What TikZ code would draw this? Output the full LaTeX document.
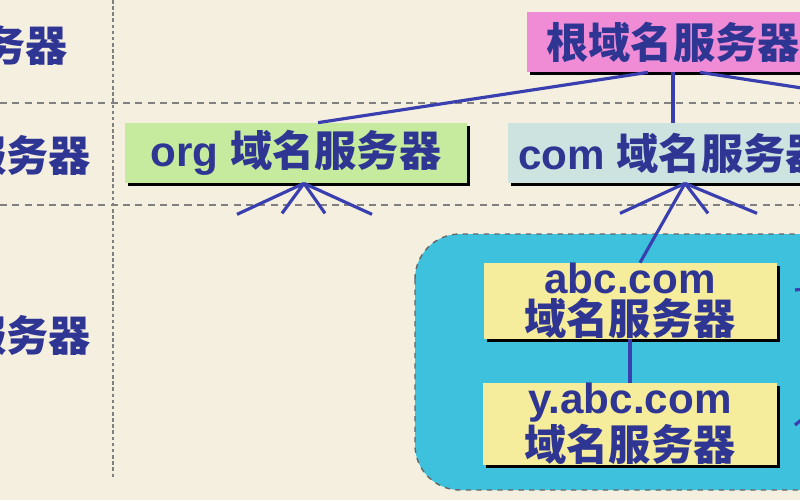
\documentclass[tikz,border=0pt]{standalone}
\usepackage{fontspec}
\setmainfont{Liberation Sans}
\newfontfamily\cjk{Noto Sans CJK SC}
\usetikzlibrary{shadows}
\definecolor{paper}{HTML}{F5EFE0}
\definecolor{ink}{HTML}{2E3592}
\definecolor{wire}{HTML}{3A3FB0}
\definecolor{rootpink}{HTML}{F08CD6}
\definecolor{orggreen}{HTML}{C6EB9E}
\definecolor{comgrey}{HTML}{CDE3E0}
\definecolor{zonecyan}{HTML}{3EC1DC}
\definecolor{hostyellow}{HTML}{F5EC9C}
\begin{document}
\begin{tikzpicture}[x=0.02cm, y=-0.02cm,
    server/.style={inner sep=0pt, text=ink, align=center,
        font=\fontsize{24}{23.5}\selectfont\bfseries,
        drop shadow={opacity=1, fill=black, shadow xshift=0.06cm, shadow yshift=-0.06cm}},
    tier/.style={anchor=east, text=ink, font=\fontsize{24}{22}\selectfont\bfseries\cjk},
    link/.style={draw=wire, line width=1.8pt},
    sep/.style={draw=gray, line width=0.8pt, dash pattern=on 4pt off 3pt}]
    \useasboundingbox (0,0) rectangle (800,500);
    \clip (0,0) rectangle (800,500);
    \fill[paper] (0,0) rectangle (800,500);

    \draw[sep] (0,103) -- (800,103);
    \draw[sep] (0,205) -- (800,205);
    \draw[draw=gray, line width=1.2pt, dash pattern=on 2pt off 1.5pt] (113,0) -- (113,478);

    \node[tier] at (74,45) (tierroot) {务器};
    \node[tier] at (97,155) (tiertop) {服务器};
    \node[tier] at (97,335) (tierauth) {服务器};

    \draw[fill=zonecyan, draw=gray!80!black, dashed, line width=0.8pt, rounded corners=0.9cm]
        (415,234) rectangle (880,490);

    \node[server, fill=rootpink, minimum width=292*0.02cm, minimum height=60*0.02cm] at (673,42) (root) {\cjk 根域名服务器};
    \node[server, fill=orggreen, minimum width=342*0.02cm, minimum height=60*0.02cm] at (296,153) (org) {org \cjk 域名服务器};
    \node[server, fill=comgrey, minimum width=330*0.02cm, minimum height=60*0.02cm] at (673,153) (com) {com \cjk 域名服务器};
    \node[server, fill=hostyellow, minimum width=293*0.02cm, minimum height=68*0.02cm] at (630,301) (abc) {abc.com\\\cjk 域名服务器};
    \node[server, fill=hostyellow, minimum width=294*0.02cm, minimum height=68*0.02cm] at (630,424) (yabc) {y.abc.com\\\cjk 域名服务器};

    \draw[link] ([xshift=-0.5cm]root.south) -- ([xshift=0.44cm]org.north);
    \draw[link] (root.south) -- (com.north);
    \draw[link] ([xshift=0.54cm]root.south) -- ++(130,20);
    \foreach \dx/\dy in {-67/31, -22/30, 21/30, 68/31}
        \draw[link] ([xshift=0.16cm]org.south) -- ++(\dx,\dy);
    \foreach \dx/\dy in {-65/30, 23/30, 72/30}
        \draw[link] ([xshift=0.24cm]com.south) -- ++(\dx,\dy);
    \draw[link] ([xshift=0.24cm]com.south) -- ([xshift=0.2cm]abc.north);
    \draw[link] (abc.south) -- (yabc.north);

    \coordinate (abcout) at (795,290);
    \coordinate (yabcout) at (795,425);
    \draw[link] (abcout) -- ++(20,-2);
    \draw[link] (yabcout) -- ++(15,-12);
\end{tikzpicture}
\end{document}
